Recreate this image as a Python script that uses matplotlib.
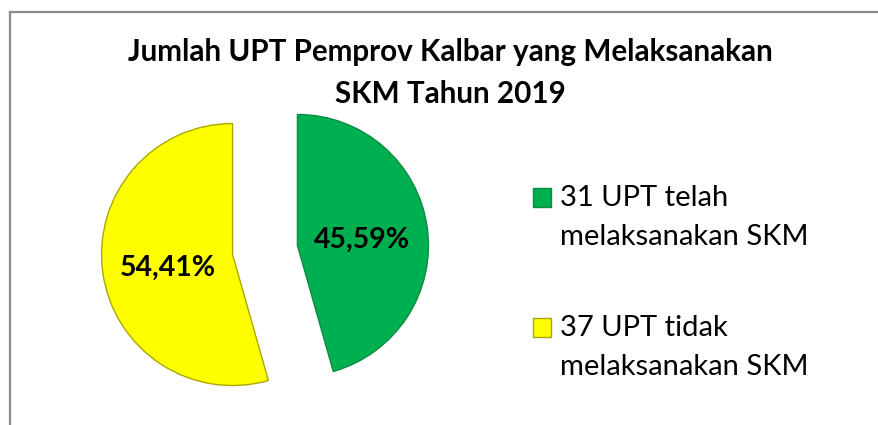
import matplotlib
matplotlib.use("Agg")
import matplotlib.pyplot as plt
from matplotlib.lines import Line2D
from matplotlib.patches import Rectangle
from matplotlib.legend_handler import HandlerPatch

# data
labels = ["31 UPT telah\nmelaksanakan SKM", "37 UPT tidak\nmelaksanakan SKM"]
jumlah = [31, 37]
warna = ["#00B050", "#FFFF00"]
tepi = ["#0B8A40", "#A8A800"]
judul = "Jumlah UPT Pemprov Kalbar yang Melaksanakan\nSKM Tahun 2019"

plt.rcParams["font.family"] = ["Lato", "DejaVu Sans"]

fig = plt.figure(figsize=(8.79, 4.25), dpi=100)

# pie axes: 1 data unit ~ 131 px, centre at (265, 250) px from top-left
W, H = 879, 425
r = 131
cx, cy = 265, H - 250
ax = fig.add_axes([(cx - 1.5 * r) / W, (cy - 1.5 * r) / H, 3 * r / W, 3 * r / H])


def fmt(p):
    return f"{p:.2f}".replace(".", ",") + "%"


wedges, texts, autotexts = ax.pie(
    jumlah, colors=warna, startangle=90, counterclock=False,
    explode=[0.25, 0.25], autopct=fmt, pctdistance=0.5,
    wedgeprops=dict(linewidth=1.0),
    textprops=dict(fontsize=20.5, fontweight="bold", color="black"))
for w, e in zip(wedges, tepi):
    w.set_edgecolor(e)
for t in autotexts:
    x, y = t.get_position()
    t.set_position((x, y - 0.03))
ax.set_xlim(-1.5, 1.5)
ax.set_ylim(-1.5, 1.5)
ax.set_aspect("equal")
ax.axis("off")

fig.text(450 / W, 1 - 73 / H, judul, ha="center", va="center",
         fontsize=21.3, fontweight="bold", linespacing=1.58)


# legend marker sits level with the first line of the label
def kotak(legend, orig_handle, xdescent, ydescent, width, height, fontsize):
    return Rectangle((-xdescent, -ydescent + 1.05 * height), width, height)


leg = fig.legend(wedges, labels, loc="upper left",
                 bbox_to_anchor=(533 / W, 1 - 185 / H), frameon=False,
                 fontsize=21, handlelength=0.62, handleheight=0.62,
                 handletextpad=0.3, labelspacing=2.24,
                 borderpad=0, borderaxespad=0,
                 handler_map={w: HandlerPatch(patch_func=kotak) for w in wedges})
for t in leg.get_texts():
    t.set_linespacing(1.6)

# frame lines (only top and left visible in the crop)
fig.add_artist(Line2D([9.5 / W, 9.5 / W], [0, 1 - 11.5 / H], color="#8C8C8C", linewidth=1.6))
fig.add_artist(Line2D([9.5 / W, 1], [1 - 11.5 / H, 1 - 11.5 / H], color="#8C8C8C", linewidth=1.6))

fig.savefig("out.png", dpi=100)
